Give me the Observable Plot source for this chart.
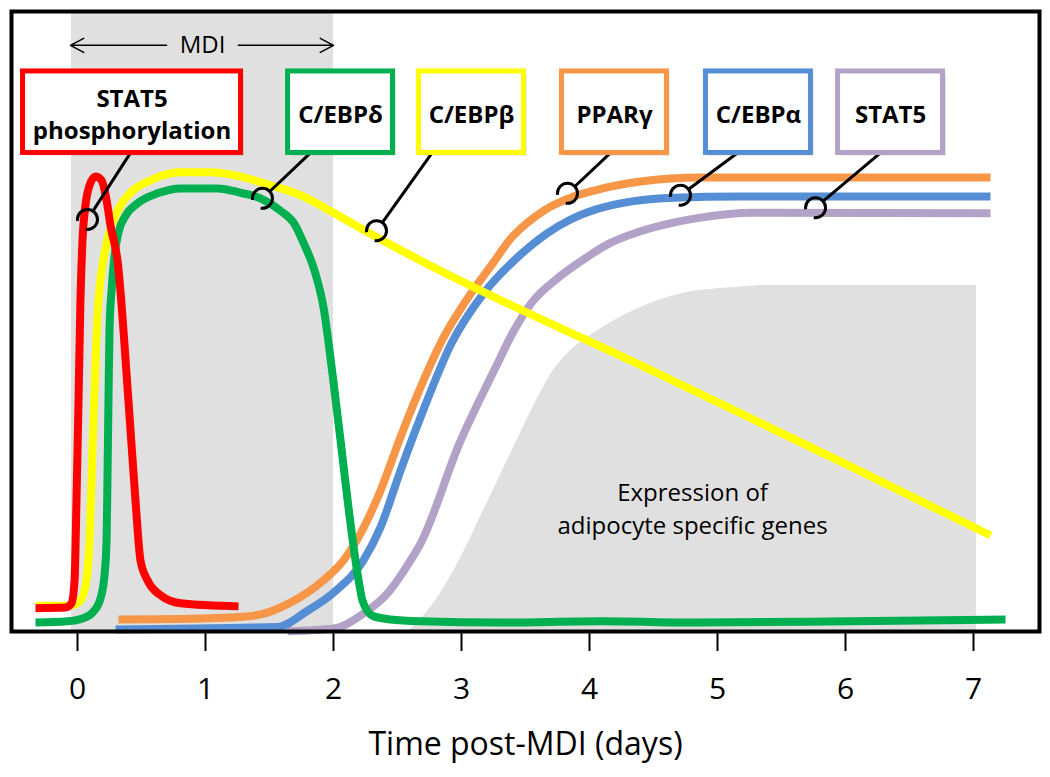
<!DOCTYPE html>
<html>
<head>
<meta charset="utf-8">
<script src="https://cdn.jsdelivr.net/npm/d3@7"></script>
<script src="https://cdn.jsdelivr.net/npm/@observablehq/plot@0.6"></script>
<style>
  html, body { margin: 0; padding: 0; background: #ffffff; }
  #chart svg { display: block; }
</style>
</head>
<body>
<div id="chart"></div>
<script>
// ---------- data (time in days post-MDI, relative level 0-100) ----------
const stat5pDays   = [-0.328, -0.094, -0.047, -0.023, -0.008, 0.008, 0.023, 0.039, 0.0625, 0.094, 0.141, 0.1875, 0.227, 0.258, 0.3125, 0.398, 0.453, 0.492, 0.547, 0.648, 0.805, 1.258];
const stat5pLevels = [3.9, 4.0, 4.7, 8.4, 21.2, 37.3, 53.4, 63.0, 68.7, 71.9, 73.3, 72.7, 69.5, 65.4, 59.8, 37.3, 21.2, 11.6, 8.4, 6.0, 4.7, 4.2];

const cebpbDays   = [-0.328, -0.055, 0.023, 0.070, 0.094, 0.117, 0.141, 0.164, 0.195, 0.242, 0.3125, 0.414, 0.570, 0.805, 1.039, 1.273, 1.508, 1.742, 2.0, 2.211, 2.680, 4.539, 6.039, 7.133];
const cebpbLevels = [4.3, 4.3, 5.1, 8.4, 14.8, 29.3, 43.7, 53.4, 59.0, 63.8, 67.8, 70.7, 72.7, 74.0, 74.0, 73.3, 71.9, 70.3, 67.5, 65.0, 59.8, 41.6, 26.7, 15.6];

const cebpdDays   = [-0.328, -0.078, 0.039, 0.117, 0.180, 0.211, 0.227, 0.234, 0.242, 0.25, 0.266, 0.289, 0.320, 0.375, 0.469, 0.625, 0.805, 1.094, 1.273, 1.430, 1.586, 1.703, 1.758, 1.859, 1.922, 1.992, 2.055, 2.117, 2.1875, 2.227, 2.305, 2.445, 2.680, 3.305, 4.086, 4.867, 6.039, 7.25];
const cebpdLevels = [1.6, 1.8, 2.25, 3.2, 5.5, 9.2, 14.8, 24.4, 37.3, 48.6, 55.0, 60.6, 64.3, 67.0, 69.0, 70.6, 71.4, 71.4, 70.7, 69.8, 67.8, 65.4, 63.0, 57.7, 52.3, 41.6, 30.9, 20.1, 9.5, 5.1, 2.7, 2.1, 1.8, 1.6, 1.8, 1.6, 1.8, 2.1];

const ppargDays   = [0.320, 0.961, 1.375, 1.664, 1.922, 2.078, 2.211, 2.367, 2.523, 2.680, 2.859, 3.047, 3.25, 3.383, 3.516, 3.656, 3.852, 4.047, 4.398, 4.867, 7.133];
const ppargLevels = [2.1, 2.25, 2.7, 4.8, 8.4, 11.6, 15.9, 22.8, 31.4, 39.4, 47.4, 53.7, 59.5, 63.3, 65.9, 68.0, 69.9, 71.1, 72.5, 73.15, 73.15];

const cebpaDays   = [0.297, 1.5625, 1.797, 2.0, 2.234, 2.367, 2.523, 2.680, 2.922, 3.172, 3.453, 3.656, 3.852, 4.047, 4.242, 4.656, 5.180, 7.133];
const cebpaLevels = [0.5, 0.9, 3.5, 6.4, 11.6, 16.9, 26.0, 34.6, 46.5, 54.5, 60.6, 64.0, 66.4, 68.0, 69.0, 69.9, 70.1, 70.1];

const stat5Days   = [1.641, 2.0, 2.234, 2.422, 2.602, 2.680, 2.984, 3.266, 3.406, 3.547, 3.766, 3.977, 4.141, 4.398, 4.656, 4.867, 5.258, 7.133];
const stat5Levels = [0.2, 0.64, 3.05, 6.3, 11.6, 14.3, 30.4, 42.6, 48.4, 53.0, 57.2, 60.3, 62.4, 64.5, 65.9, 66.7, 67.5, 67.4];

// adipocyte-specific gene expression (shaded region)
const exprDays   = [2.5625, 2.617, 2.836, 2.984, 3.172, 3.359, 3.547, 3.734, 3.852, 4.102, 4.352, 4.727, 5.156, 5.344, 7.023];
const exprLevels = [0, 0.8, 6.3, 11.6, 19.6, 27.65, 35.7, 42.6, 45.3, 49.0, 51.8, 54.5, 55.5, 55.8, 55.8];

// MDI treatment window (days)
const mdiWindow = [-0.047, 2.0];

// axis ticks
const dayTicks = [0, 1, 2, 3, 4, 5, 6, 7];

// label boxes
const labelNames  = ["STAT5\nphosphorylation", "C/EBPδ", "C/EBPβ", "PPARγ", "C/EBPα", "STAT5"];
const labelColors = ["#ff0000", "#00b050", "#ffff00", "#f79646", "#558ed5", "#b3a2c7"];
const hookDays    = [0.078, 1.445, 2.336, 3.828, 4.711, 5.766];
const hookLevels  = [66.4, 69.8, 64.6, 70.6, 70.3, 68.3];

// ---------- layout (annotation placement) ----------
const boxCenters = [0.426, 2.055, 3.078, 4.195, 5.32, 6.352];
const boxWidths  = [1.703, 0.82, 0.82, 0.82, 0.82, 0.82];
const attachDays = [0.414, 1.82, 2.77, 4.164, 5.156, 6.273];
const boxTop = 90.2, boxBottom = 77.1, boxMid = 83.6;

// ---------- build tables ----------
const toRows = (days, levels) => days.map((d, i) => ({day: d, level: levels[i]}));
const series = [
  {name: "STAT5",  color: "#b3a2c7", rows: toRows(stat5Days, stat5Levels)},
  {name: "C/EBPα", color: "#558ed5", rows: toRows(cebpaDays, cebpaLevels)},
  {name: "PPARγ",  color: "#f79646", rows: toRows(ppargDays, ppargLevels)},
  {name: "C/EBPβ", color: "#ffff00", rows: toRows(cebpbDays, cebpbLevels)},
  {name: "C/EBPδ", color: "#00b050", rows: toRows(cebpdDays, cebpdLevels)},
  {name: "STAT5 phosphorylation", color: "#ff0000", rows: toRows(stat5pDays, stat5pLevels)}
];
const exprRows = toRows(exprDays, exprLevels);
const boxes = labelNames.map((t, i) => ({
  text: t, color: labelColors[i],
  x1: boxCenters[i] - boxWidths[i] / 2, x2: boxCenters[i] + boxWidths[i] / 2,
  cx: boxCenters[i], attach: attachDays[i], hookDay: hookDays[i], hookLevel: hookLevels[i]
}));
const mdiY = 94.4;
const mdiMid = (mdiWindow[0] + mdiWindow[1]) / 2;
const mdiArrows = [
  {from: mdiMid - 0.28, to: mdiWindow[0] - 0.008},
  {from: mdiMid + 0.28, to: mdiWindow[1]}
];

const FONT = "'Open Sans', 'DejaVu Sans', sans-serif";
const yDom = [1 / 6.22, 621 / 6.22];

const plot = Plot.plot({
  width: 1050,
  height: 777,
  marginTop: 11,
  marginBottom: 146,
  marginLeft: 11,
  marginRight: 11,
  style: {fontFamily: FONT, background: "#ffffff", color: "#000"},
  x: {domain: [(11 - 77) / 128, (1039 - 77) / 128]},
  y: {domain: yDom, axis: null},
  marks: [
    // MDI window shading
    Plot.rect([mdiWindow], {x1: d => d[0], x2: d => d[1], y1: () => yDom[0], y2: () => yDom[1], fill: "#e0e0e0"}),
    // adipocyte gene expression shading
    Plot.areaY(exprRows, {x: "day", y: "level", fill: "#e0e0e0", curve: "monotone-x"}),
    Plot.text(["Expression of\nadipocyte specific genes"], {x: () => 4.805, y: () => 20.2, text: d => d, fontSize: 24, lineHeight: 1.4, fill: "#000"}),
    // MDI arrows
    Plot.arrow(mdiArrows, {x1: "from", x2: "to", y1: () => mdiY, y2: () => mdiY, stroke: "#000", strokeWidth: 1.5, headLength: 15, headAngle: 56}),
    Plot.text(["MDI"], {x: () => mdiMid, y: () => mdiY, text: d => d, fontSize: 24, fill: "#000"}),
    // curves
    ...series.map(s => Plot.line(s.rows, {x: "day", y: "level", stroke: s.color, strokeWidth: 8, curve: "monotone-x", strokeLinecap: "butt", strokeLinejoin: "round"})),
    // frame and axis
    Plot.frame({stroke: "#000", strokeWidth: 4}),
    Plot.axisX({ticks: dayTicks, tickSize: 20, tickPadding: 26, fontSize: 30, strokeWidth: 2, tickFormat: d => String(d), label: null, stroke: "#000", color: "#000"}),
    Plot.text(["Time post-MDI (days)"], {frameAnchor: "bottom", dy: 101, lineAnchor: "top", text: d => d, fontSize: 32, fill: "#000"}),
    // connectors with hooks
    Plot.arrow(boxes, {x1: "attach", y1: () => boxBottom, x2: "hookDay", y2: "hookLevel", insetEnd: 10, headLength: 0, stroke: "#000", strokeWidth: 3, strokeLinecap: "butt"}),
    Plot.dot(boxes, {x: "hookDay", y: "hookLevel", r: 10, stroke: "#000", strokeWidth: 3, fill: "none", strokeDasharray: "50.6 12.2", strokeDashoffset: 33.15}),
    // label boxes
    Plot.rect(boxes, {x1: "x1", x2: "x2", y1: () => boxBottom, y2: () => boxTop, fill: "#7f7f7f", fillOpacity: 0.35, dx: 3, dy: 3}),
    Plot.rect(boxes, {x1: "x1", x2: "x2", y1: () => boxBottom, y2: () => boxTop, fill: "#ffffff", stroke: "color", strokeWidth: 5}),
    Plot.text(boxes, {x: "cx", y: () => boxMid, text: "text", fontSize: 24, fontWeight: "bold", lineHeight: 1.33, fill: "#000"})
  ]
});
document.getElementById("chart").appendChild(plot);
</script>
</body>
</html>
